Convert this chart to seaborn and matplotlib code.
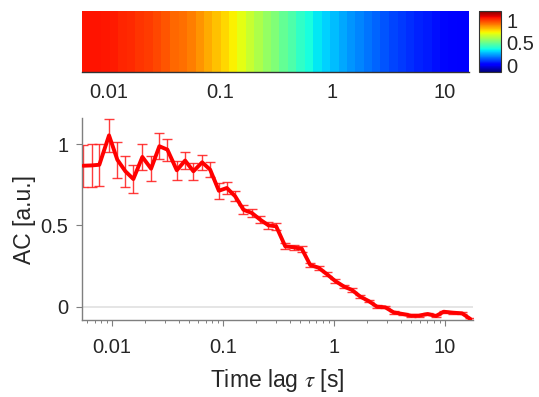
import numpy as np
import pandas as pd
import matplotlib
matplotlib.use("Agg")
import matplotlib.pyplot as plt
import matplotlib.colors as mcolors
import matplotlib.cm as cm
import seaborn as sns

# ---- data ----
lags = [0.005543, 0.006598, 0.007731, 0.009454, 0.01123, 0.01327, 0.01566, 0.01888,
        0.02262, 0.02687, 0.03174, 0.03858, 0.04584, 0.05445, 0.06525, 0.07702,
        0.09228, 0.1090, 0.1295, 0.1538, 0.1831, 0.2176, 0.2585, 0.3033,
        0.3658, 0.4345, 0.5172, 0.6146, 0.7303, 0.8692, 1.033, 1.245,
        1.461, 1.736, 2.063, 2.456, 2.918, 3.467, 4.179, 4.976,
        5.828, 7.024, 8.363, 9.793, 11.90, 14.35, 17.05]
ac = [0.868, 0.870, 0.874, 1.055, 0.905, 0.834, 0.786, 0.922,
      0.850, 0.988, 0.967, 0.840, 0.900, 0.834, 0.889, 0.844,
      0.714, 0.731, 0.680, 0.597, 0.577, 0.536, 0.501, 0.495,
      0.372, 0.366, 0.355, 0.257, 0.240, 0.200, 0.158, 0.123,
      0.103, 0.062, 0.035, 0.000, -0.004, -0.035, -0.045, -0.055,
      -0.055, -0.045, -0.057, -0.031, -0.037, -0.041, -0.076]
ac_err = [0.128, 0.130, 0.130, 0.100, 0.110, 0.095, 0.087, 0.082,
          0.079, 0.081, 0.067, 0.058, 0.055, 0.053, 0.048, 0.045,
          0.050, 0.035, 0.030, 0.028, 0.025, 0.022, 0.020, 0.020,
          0.018, 0.016, 0.016, 0.014, 0.013, 0.012, 0.011, 0.010,
          0.010, 0.009, 0.008, 0.008, 0.007, 0.007, 0.006, 0.006,
          0.006, 0.006, 0.006, 0.006, 0.006, 0.006, 0.006]
strip_vals = [0.89, 0.89, 0.89, 0.885, 0.88, 0.87, 0.865, 0.855,
              0.845, 0.835, 0.82, 0.80, 0.79, 0.775, 0.75, 0.73,
              0.705, 0.68, 0.655, 0.625, 0.59, 0.56, 0.53, 0.505,
              0.47, 0.445, 0.41, 0.38, 0.355, 0.33, 0.31, 0.29,
              0.27, 0.255, 0.24, 0.225, 0.21, 0.195, 0.18, 0.17,
              0.16, 0.15, 0.14, 0.13, 0.125, 0.12, 0.115]
x_ticks = [0.01, 0.1, 1, 10]
x_ticklabels = ["0.01", "0.1", "1", "10"]
y_ticks = [0, 0.5, 1]
y_ticklabels = ["0", "0.5", "1"]
cb_ticks = [0, 0.5, 1]
cb_ticklabels = ["0", "0.5", "1"]

df = pd.DataFrame({"lag": lags, "ac": ac, "err": ac_err})

# ---- style ----
sns.set_theme(style="white")
plt.rcParams["font.family"] = ["Liberation Sans", "DejaVu Sans"]
plt.rcParams["mathtext.fontset"] = "stix"
TXT = "#262626"
SP = "#7f7f7f"
FS = 14.5

fig = plt.figure(figsize=(5.39, 3.97), dpi=100)
W, H = 539, 397

def frac(l, t, r, b):
    return [l / W, 1 - b / H, (r - l) / W, (b - t) / H]

# ---- strip ----
ax_s = fig.add_axes(frac(82, 11, 469.3, 71.7))
lg = np.log10(lags)
mid = (lg[1:] + lg[:-1]) / 2
edges = np.concatenate([[lg[0] - (mid[0] - lg[0])], mid, [lg[-1] + (lg[-1] - mid[-1])]])
ax_s.pcolormesh(10 ** edges, [0, 1], np.array(strip_vals)[None, :], cmap="jet",
                norm=mcolors.Normalize(0, 1), shading="flat")
ax_s.set_xscale("log")
ax_s.set_xlim(10 ** -2.239, 10 ** 1.222)
ax_s.set_ylim(0, 1)
ax_s.set_yticks([])
ax_s.set_xticks(x_ticks)
ax_s.set_xticklabels(x_ticklabels)
ax_s.xaxis.set_minor_locator(matplotlib.ticker.NullLocator())
ax_s.tick_params(axis="x", direction="in", length=4, width=0.8, color="#333333",
                 labelsize=FS, labelcolor=TXT, pad=8, bottom=True)
for s in ["top", "left", "right"]:
    ax_s.spines[s].set_visible(False)
ax_s.spines["bottom"].set_color("#333333")
ax_s.spines["bottom"].set_linewidth(1.0)

# ---- colorbar ----
ax_cb = fig.add_axes(frac(479, 11, 501, 71.7))
sm = cm.ScalarMappable(norm=mcolors.Normalize(-0.15, 1.21), cmap="jet")
cb = fig.colorbar(sm, cax=ax_cb, ticks=cb_ticks)
cb.ax.set_yticklabels(cb_ticklabels)
cb.ax.tick_params(labelsize=FS, labelcolor=TXT, length=3, width=0.8, color="#333333",
                  direction="in", pad=4)
cb.outline.set_edgecolor("#333333")
cb.outline.set_linewidth(0.8)

# ---- main ----
ax = fig.add_axes(frac(82.3, 118, 473, 320))
ax.axhline(0, color="#e0e0e0", lw=1.2, zorder=0)
ax.errorbar(df["lag"], df["ac"], yerr=df["err"], fmt="none", ecolor="#ff1a1a",
            elinewidth=1.0, capsize=3.4, capthick=1.0, alpha=0.85, zorder=2)
sns.lineplot(data=df, x="lag", y="ac", ax=ax, color="#ff0000", lw=2.8, zorder=3)
ax.set_xscale("log")
ax.set_xlim(0.00543, 18.0)
ax.set_ylim(-0.082, 1.162)
ax.set_xticks(x_ticks)
ax.set_xticklabels(x_ticklabels)
ax.set_yticks(y_ticks)
ax.set_yticklabels(y_ticklabels)
for s in ["top", "right"]:
    ax.spines[s].set_visible(False)
for s in ["left", "bottom"]:
    ax.spines[s].set_color(SP)
    ax.spines[s].set_linewidth(1.0)
ax.tick_params(axis="both", which="major", direction="out", length=4, width=0.8,
               color=SP, labelsize=FS, labelcolor=TXT, left=True, bottom=True)
ax.tick_params(axis="x", which="minor", direction="out", length=2.5, width=0.7,
               color=SP, bottom=True)
ax.tick_params(axis="x", which="major", pad=9)
ax.tick_params(axis="y", which="major", pad=6)
ax.set_xlabel(r"Time lag $\tau$ [s]", fontsize=16.5, color=TXT, labelpad=7)
ax.set_ylabel("AC [a.u.]", fontsize=16.5, color=TXT, labelpad=3)

fig.savefig("out.png", dpi=100)
